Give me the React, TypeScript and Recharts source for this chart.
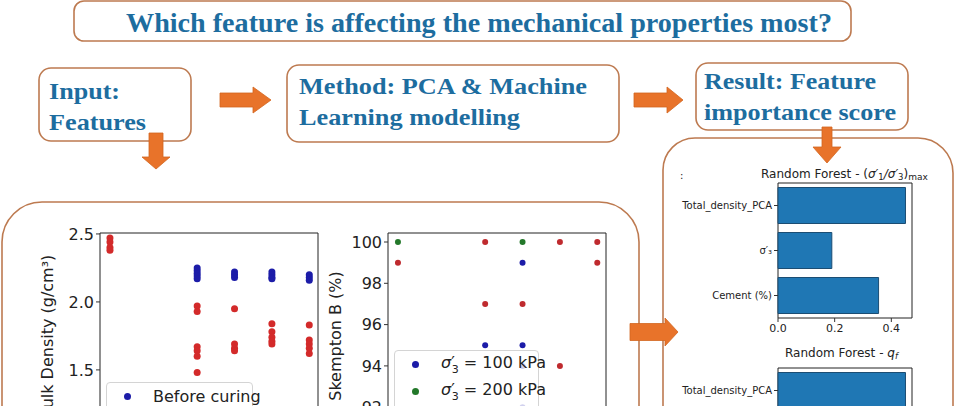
import { ScatterChart, Scatter, BarChart, Bar, XAxis, YAxis, CartesianGrid } from 'recharts'

// scatter groups (x = group value, y = measurement)
const beforeCuring: [number, number][] = [
  [7, 2.25], [7, 2.23], [7, 2.21], [7, 2.19], [7, 2.17],
  [10, 2.22], [10, 2.2], [10, 2.18],
  [13, 2.22], [13, 2.2], [13, 2.18], [13, 2.17],
  [16, 2.2], [16, 2.18], [16, 2.16],
]
const afterCuring: [number, number][] = [
  [0, 2.47], [0, 2.44], [0, 2.4], [0, 2.38],
  [7, 1.97], [7, 1.93], [7, 1.67], [7, 1.64], [7, 1.6], [7, 1.48],
  [10, 1.95], [10, 1.69], [10, 1.66], [10, 1.64],
  [13, 1.84], [13, 1.78], [13, 1.74], [13, 1.71], [13, 1.69],
  [16, 1.83], [16, 1.72], [16, 1.69], [16, 1.66], [16, 1.62],
]
const skemptonAt100: [number, number][] = [[7, 95], [10, 99], [10, 95], [10, 94], [10, 92]]
const skemptonAt200: [number, number][] = [[0, 100], [10, 100]]
const skemptonAt300: [number, number][] = [
  [0, 99], [7, 100], [7, 97], [10, 97], [13, 100], [13, 94], [16, 100], [16, 99],
]

const densityTicks = [1.0, 1.5, 2.0, 2.5]
const skemptonTicks = [92, 94, 96, 98, 100]
const importanceTicks = [0, 0.2, 0.4]

const features = ['Total_density_PCA', 'σ′₃', 'Cement (%)']
const rfStressRatio = [0.45, 0.19, 0.355]
const rfQf = [0.45, 0.17, 0.38]

const curingLegend = ['Before curing', 'After curing']
const stressLegend = ['100', '200', '300']

const BLUE = '#1c1ca8'
const RED = '#d32a2a'
const DARK_RED = '#bf2a2e'
const GREEN = '#23782a'
const BAR = '#1f77b4'
const TEXT_BLUE = '#1d6d9f'
const BORDER = '#bd7a50'
const ORANGE = '#e8732a'

const toPoints = (arr: [number, number][]) => arr.map(([x, y]) => ({ x, y }))
const toBars = (vals: number[]) => features.map((name, i) => ({ name, value: vals[i] }))

const frameH = ({ offset }: any) => [offset.top, offset.top + offset.height]
const frameV = ({ offset }: any) => [offset.left, offset.left + offset.width]

const dot = (color: string, r: number) => (p: any) => <circle cx={p.cx} cy={p.cy} r={r} fill={color} />

const yLabel = (text: string, dx: number) => (p: any) => {
  const vb = p.viewBox
  const cx = vb.x + dx
  const cy = vb.y + vb.height / 2
  return (
    <text x={cx} y={cy} transform={`rotate(-90 ${cx} ${cy})`} textAnchor="middle"
      dominantBaseline="central" fontSize={16} fill="#222" fontFamily="DejaVu Sans">
      {text}
    </text>
  )
}

const rightArrow = (x0: number, x1: number, yc: number, sh: number, hh: number, hl: number) =>
  `M${x0},${yc - sh} H${x1 - hl} V${yc - hh} L${x1},${yc} L${x1 - hl},${yc + hh} V${yc + sh} H${x0} Z`
const downArrow = (y0: number, y1: number, xc: number, sh: number, hh: number, hl: number) =>
  `M${xc - sh},${y0} V${y1 - hl} H${xc - hh} L${xc},${y1} L${xc + hh},${y1 - hl} H${xc + sh} V${y0} Z`

const Sigma3 = () => (
  <span><i>σ</i>′<sub style={{ fontSize: 11, marginLeft: -3 }}>3</sub></span>
)

function LegendBox({ left, top, width, items }: { left: number; top: number; width: number; items: { color: string; label: any }[] }) {
  return (
    <div style={{
      position: 'absolute', left, top, width, height: 27 * items.length + 6,
      background: 'rgba(255,255,255,0.8)', border: '1px solid #d4d4d4', borderRadius: 4,
      fontFamily: 'DejaVu Sans', fontSize: 16, color: '#222', boxSizing: 'border-box',
    }}>
      {items.map((it, i) => (
        <div key={i} style={{ display: 'flex', alignItems: 'center', height: 27 }}>
          <span style={{ width: 7, height: 7, borderRadius: '50%', background: it.color, marginLeft: 17, marginRight: 22, flex: 'none' }} />
          <span style={{ whiteSpace: 'nowrap' }}>{it.label}</span>
        </div>
      ))}
    </div>
  )
}

function ImportanceChart({ top, data }: { top: number; data: { name: string; value: number }[] }) {
  return (
    <div style={{ position: 'absolute', left: 670, top }}>
      <BarChart width={260} height={198} data={data} layout="vertical" barCategoryGap="10%"
        margin={{ top: 33, right: 18, left: 0, bottom: 0 }}>
        <CartesianGrid stroke="#222" horizontalCoordinatesGenerator={frameH} verticalCoordinatesGenerator={frameV} />
        <XAxis type="number" domain={[0, 0.473]} ticks={importanceTicks} height={30} axisLine={false}
          tickSize={4} tickLine={{ stroke: '#333' }} tickFormatter={(v: number) => v.toFixed(1)}
          tick={{ fontSize: 11, fill: '#222', fontFamily: 'DejaVu Sans' }} />
        <YAxis type="category" dataKey="name" width={108} axisLine={false} tickSize={4}
          tickLine={{ stroke: '#333' }} tick={{ fontSize: 10, fill: '#222', fontFamily: 'DejaVu Sans' }} />
        <Bar dataKey="value" fill={BAR} stroke="#1b4d73" strokeWidth={1} isAnimationActive={false} />
      </BarChart>
    </div>
  )
}

export default function App() {
  const serif = { fontFamily: 'Liberation Serif', fontWeight: 700, fill: TEXT_BLUE } as const
  return (
    <div style={{ position: 'absolute', left: 0, top: 0, width: 956, height: 406, overflow: 'hidden', background: '#fff' }}>
      <svg width={956} height={406} style={{ position: 'absolute', left: 0, top: 0 }}>
        <g fill="none" stroke={BORDER} strokeWidth={1.6}>
          <rect x={74} y={1} width={777} height={40} rx={10} />
          <rect x={39} y={68} width={152} height={73} rx={12} />
          <rect x={287} y={65} width={332} height={77} rx={12} />
          <rect x={696} y={63} width={212} height={67} rx={12} />
          <path d="M2,470 V242 A40,40 0 0 1 42,202 H599 A40,40 0 0 1 639,242 V470" />
          <path d="M663,470 V170 A32,32 0 0 1 695,138 H918 A35,35 0 0 1 953,173 V470" />
        </g>
        <text x={126} y={32} fontSize={27} textLength={706} lengthAdjust="spacingAndGlyphs" {...serif}>
          Which feature is affecting the mechanical properties most?
        </text>
        <text x={49} y={99} fontSize={24} textLength={71} lengthAdjust="spacingAndGlyphs" {...serif}>Input:</text>
        <text x={49} y={130} fontSize={24} textLength={97} lengthAdjust="spacingAndGlyphs" {...serif}>Features</text>
        <text x={299} y={94} fontSize={24} textLength={288} lengthAdjust="spacingAndGlyphs" {...serif}>Method: PCA &amp; Machine</text>
        <text x={299} y={125} fontSize={24} textLength={221} lengthAdjust="spacingAndGlyphs" {...serif}>Learning modelling</text>
        <text x={704} y={89} fontSize={24} textLength={172} lengthAdjust="spacingAndGlyphs" {...serif}>Result: Feature</text>
        <text x={704} y={120} fontSize={24} textLength={192} lengthAdjust="spacingAndGlyphs" {...serif}>importance score</text>
        <g fill={ORANGE} stroke="#d2661f" strokeWidth={0.8}>
          <path d={rightArrow(220, 271, 100, 7, 13, 18)} />
          <path d={rightArrow(634, 683, 100, 7, 13, 16)} />
          <path d={rightArrow(630, 678, 332, 8.5, 14, 13)} />
          <path d={downArrow(133, 169, 156, 7, 14, 12)} />
          <path d={downArrow(127, 163, 827, 5, 14, 16)} />
        </g>
        <g fontFamily="DejaVu Sans" fill="#222" fontSize={12}>
          <text x={680} y={179} fontSize={10}>:</text>
          <text x={761} y={178}>
            Random Forest -  (<tspan fontStyle="italic">σ′</tspan><tspan fontSize={8.5} dy={2}>1</tspan>
            <tspan dy={-2} fontStyle="italic">/σ′</tspan><tspan fontSize={8.5} dy={2}>3</tspan>
            <tspan dy={-2}>)</tspan><tspan fontSize={9} dy={2}>max</tspan>
          </text>
          <text x={785} y={357}>
            Random Forest - <tspan fontStyle="italic">q</tspan><tspan fontSize={8.5} dy={2} fontStyle="italic">f</tspan>
          </text>
        </g>
      </svg>

      <div style={{ position: 'absolute', left: 0, top: 200 }}>
        <ScatterChart width={340} height={260} margin={{ top: 33, right: 22, left: 0, bottom: 19 }}>
          <CartesianGrid stroke="#222" horizontalCoordinatesGenerator={frameH} verticalCoordinatesGenerator={frameV} />
          <XAxis type="number" dataKey="x" domain={[-0.8, 16.7]} hide />
          <YAxis type="number" dataKey="y" domain={[0.977, 2.507]} ticks={densityTicks} width={100}
            allowDataOverflow axisLine={false} tickSize={4} tickLine={{ stroke: '#333' }}
            tickFormatter={(v: number) => v.toFixed(1)}
            tick={{ fontSize: 16, fill: '#222', fontFamily: 'DejaVu Sans' }}
            label={yLabel('Bulk Density (g/cm³)', 47)} />
          <Scatter data={toPoints(beforeCuring)} shape={dot(BLUE, 3.5)} isAnimationActive={false} />
          <Scatter data={toPoints(afterCuring)} shape={dot(RED, 3.5)} isAnimationActive={false} />
        </ScatterChart>
      </div>

      <div style={{ position: 'absolute', left: 320, top: 200 }}>
        <ScatterChart width={300} height={258} margin={{ top: 33, right: 14, left: 0, bottom: 19 }}>
          <CartesianGrid stroke="#222" horizontalCoordinatesGenerator={frameH} verticalCoordinatesGenerator={frameV} />
          <XAxis type="number" dataKey="x" domain={[-0.8, 16.7]} hide />
          <YAxis type="number" dataKey="y" domain={[90.46, 100.436]} ticks={skemptonTicks} width={68}
            allowDataOverflow axisLine={false} tickSize={4} tickLine={{ stroke: '#333' }}
            tick={{ fontSize: 16, fill: '#222', fontFamily: 'DejaVu Sans' }}
            label={yLabel('Skempton B (%)', 15)} />
          <Scatter data={toPoints(skemptonAt100)} shape={dot(BLUE, 3)} isAnimationActive={false} />
          <Scatter data={toPoints(skemptonAt200)} shape={dot(GREEN, 3)} isAnimationActive={false} />
          <Scatter data={toPoints(skemptonAt300)} shape={dot(DARK_RED, 3)} isAnimationActive={false} />
        </ScatterChart>
      </div>

      <LegendBox left={106} top={382} width={147}
        items={[{ color: BLUE, label: curingLegend[0] }, { color: RED, label: curingLegend[1] }]} />
      <LegendBox left={394} top={350} width={145}
        items={stressLegend.map((s, i) => ({
          color: [BLUE, GREEN, DARK_RED][i],
          label: <><Sigma3 /> = {s} kPa</>,
        }))} />

      <ImportanceChart top={150} data={toBars(rfStressRatio)} />
      <ImportanceChart top={335} data={toBars(rfQf)} />
    </div>
  )
}
